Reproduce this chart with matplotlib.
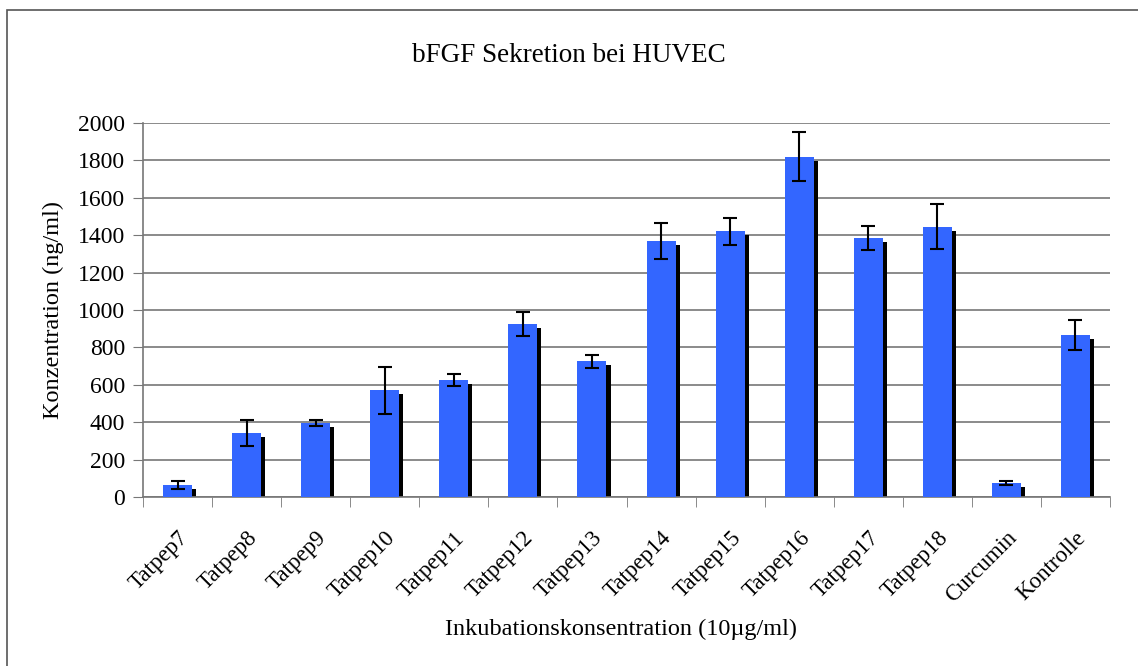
import numpy as np
import matplotlib
matplotlib.use("Agg")
import matplotlib.pyplot as plt
from matplotlib.patches import Rectangle

categories = ["Tatpep7", "Tatpep8", "Tatpep9", "Tatpep10", "Tatpep11", "Tatpep12",
              "Tatpep13", "Tatpep14", "Tatpep15", "Tatpep16", "Tatpep17", "Tatpep18",
              "Curcumin", "Kontrolle"]
values = [65, 340, 395, 570, 625, 925, 725, 1370, 1420, 1820, 1385, 1445, 75, 865]
errors = [20, 70, 15, 125, 30, 65, 35, 95, 70, 130, 65, 120, 10, 80]

plt.rcParams['font.family'] = ['Liberation Serif', 'DejaVu Serif']

fig = plt.figure(figsize=(11.38, 6.66), dpi=100)
ax = fig.add_axes([0.1257, 0.2538, 0.8497, 0.5615])

x = np.arange(len(categories))
w = 0.42
# black shadow behind each bar
ax.bar(x + 0.058, np.array(values) - 21, width=w, color="black", zorder=2)
ax.bar(x, values, width=w, color="#3366ff", zorder=3)
ax.errorbar(x, values, yerr=errors, fmt="none", ecolor="black", elinewidth=1.5,
            capsize=5, capthick=1.5, zorder=4)

ax.set_xlim(-0.5, len(categories) - 0.5)
ax.set_ylim(0, 2000)
ax.set_yticks(np.arange(0, 2001, 200))
ax.yaxis.grid(True, color="#777777", linewidth=1.2, zorder=0)
ax.set_axisbelow(True)

ax.set_xticks(x)
ax.set_xticklabels(categories, rotation=45, ha="right", rotation_mode="anchor", fontsize=16.5)
ax.set_xticks(np.arange(-0.5, len(categories)), minor=True)
ax.tick_params(axis="x", which="major", length=0, pad=22)
ax.tick_params(axis="x", which="minor", length=7, color="#777777")
ax.tick_params(axis="y", length=7, color="#777777", labelsize=17, pad=6)

for s in ["top", "right"]:
    ax.spines[s].set_visible(False)
for s in ["left", "bottom"]:
    ax.spines[s].set_color("#777777")
    ax.spines[s].set_linewidth(1.2)

fig.text(0.5, 1 - 55 / 666, "bFGF Sekretion bei HUVEC", fontsize=19.5,
         ha="center", va="center")
ax.set_ylabel("Konzentration (ng/ml)", fontsize=17.5)
ax.yaxis.set_label_coords((53 - 143) / 967, 0.5)
ax.yaxis.label.set_va("center")
ax.set_xlabel("Inkubationskonsentration (10µg/ml)", fontsize=17.5)
ax.xaxis.set_label_coords(621 / 1138, 1 - 629 / 666, transform=fig.transFigure)
ax.xaxis.label.set_va("center")

# outer frame, cut off at right and bottom like the original screenshot
fig.patches.append(Rectangle((0.006, -0.05), 1.1, 1.035, transform=fig.transFigure,
                             fill=False, edgecolor="#555555", linewidth=1.2))

fig.savefig("out.png", dpi=100)
